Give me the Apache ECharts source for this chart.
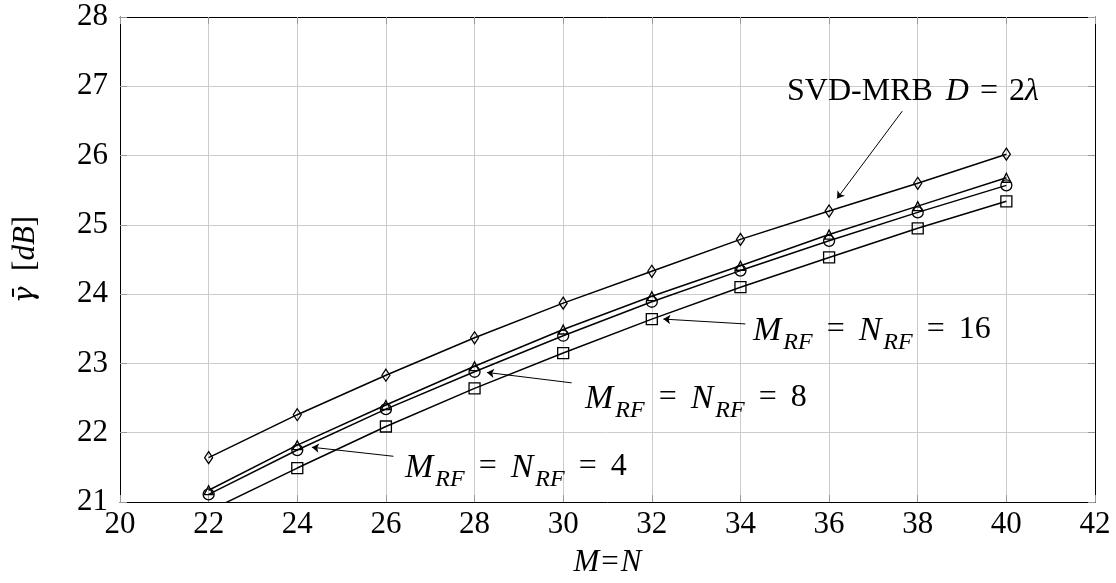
<!DOCTYPE html>
<html>
<head>
<meta charset="utf-8">
<script src="https://cdn.jsdelivr.net/npm/echarts@6/dist/echarts.min.js"></script>
<style>
  html, body { margin: 0; padding: 0; background: #fff; }
  #chart { width: 1116px; height: 583px; }
</style>
</head>
<body>
<div id="chart"></div>
<script>
// Array size M = N
const sizes = [22, 24, 26, 28, 30, 32, 34, 36, 38, 40];

// Average SNR gain (dB) per scheme
const svdMrb   = [21.64, 22.26, 22.83, 23.37, 23.87, 24.33, 24.79, 25.20, 25.60, 26.02];
const rf16     = [21.17, 21.82, 22.40, 22.96, 23.49, 23.97, 24.41, 24.86, 25.27, 25.68];
const rf8      = [21.11, 21.75, 22.34, 22.88, 23.40, 23.89, 24.34, 24.77, 25.18, 25.57];
const rf4      = [20.87, 21.49, 22.09, 22.64, 23.15, 23.64, 24.10, 24.53, 24.95, 25.34];

// Axis ranges and ticks
const xTicks = [20, 42, 2];
const yTicks = [21, 28, 1];

const FONT = 'Liberation Serif';
const FS = 31;
const AFS = 32;

function tok(extra) {
  return Object.assign({
    fontFamily: FONT, fontSize: AFS, fontWeight: 'normal', fontStyle: 'normal',
    color: '#000', lineHeight: 36, verticalAlign: 'top'
  }, extra);
}

// math-like text pieces: italic symbols, upright text, relation with wide spacing, subscripts
const rich = {
  it:  tok({ fontStyle: 'italic' }),
  itm: tok({ fontStyle: 'italic', fontSize: 34 }),
  itd: tok({ fontStyle: 'italic', padding: [0, 0, 0, 13] }),
  rm:  tok({}),
  eq:  tok({ padding: [0, 11, 0, 11] }),
  eqw: tok({ padding: [0, 14, 0, 14] }),
  sub: tok({ fontSize: 24, fontStyle: 'italic', lineHeight: 24, padding: [17, 0, 0, 2] }),
  ax:  tok({ fontSize: FS, fontStyle: 'italic', lineHeight: 34 }),
  axr: tok({ fontSize: FS, lineHeight: 34 }),
  axe: tok({ fontSize: FS, lineHeight: 34, padding: [0, 2, 0, 2] }),
  gam: tok({ fontFamily: 'DejaVu Serif', fontSize: 28, fontStyle: 'italic', lineHeight: 34, padding: [2, 0, 0, 0] })
};

const pair = (xs, ys) => xs.map((x, i) => [x, ys[i]]);

function lineSeries(name, ys, symbol, size) {
  return {
    name: name,
    type: 'line',
    data: pair(sizes, ys),
    symbol: symbol,
    symbolSize: size,
    showAllSymbol: true,
    clip: true,
    lineStyle: { color: '#000', width: 1.5 },
    itemStyle: { color: 'rgba(255,255,255,0)', borderColor: '#000', borderWidth: 1.3 },
    emphasis: { disabled: true },
    z: 3
  };
}

function annotationTitle(text, left, top) {
  return { text: text, left: left, top: top, padding: 0, textStyle: { fontWeight: 'normal', rich: rich } };
}

const rfLabel = (n) => '{itm|M}{sub|RF}{eqw|=}{itm|N}{sub|RF}{eqw|=}{rm|' + n + '}';

const arrowLine = { color: '#000', width: 1, type: 'solid' };

const option = {
  animation: false,
  backgroundColor: '#fff',
  title: [
    annotationTitle('{rm|SVD-MRB}{itd|D}{eq|=}{rm|2}{it|λ}', 787, 76),
    annotationTitle(rfLabel(16), 753, 314),
    annotationTitle(rfLabel(8), 585, 382),
    annotationTitle(rfLabel(4), 405, 451)
  ],
  grid: { left: 120, right: 21, top: 17, bottom: 78, containLabel: false },
  xAxis: [
    {
      type: 'value', min: xTicks[0], max: xTicks[1], interval: xTicks[2], position: 'bottom',
      name: '{ax|M}{axe|=}{ax|N}', nameLocation: 'middle', nameGap: 45,
      nameTextStyle: { rich: rich },
      axisLine: { onZero: false, lineStyle: { color: '#000', width: 1 } },
      axisTick: { inside: true, length: 7, lineStyle: { color: '#999' } },
      axisLabel: { fontFamily: FONT, fontSize: FS, color: '#000', margin: 7 },
      splitLine: { show: true, lineStyle: { color: '#cccccc', width: 1 } }
    },
    {
      type: 'value', min: xTicks[0], max: xTicks[1], interval: xTicks[2], position: 'top',
      axisLine: { onZero: false, lineStyle: { color: '#000', width: 1 } },
      axisTick: { inside: true, length: 7, lineStyle: { color: '#999' } },
      axisLabel: { show: false },
      splitLine: { show: false }
    }
  ],
  yAxis: [
    {
      type: 'value', min: yTicks[0], max: yTicks[1], interval: yTicks[2], position: 'left',
      name: '{gam|γ̄}{axr|  [}{ax|dB}{axr|]}', nameLocation: 'middle', nameGap: 76, nameRotate: 90,
      nameTextStyle: { rich: rich },
      axisLine: { onZero: false, lineStyle: { color: '#000', width: 1 } },
      axisTick: { inside: true, length: 7, lineStyle: { color: '#999' } },
      axisLabel: { fontFamily: FONT, fontSize: FS, color: '#000', margin: 12 },
      splitLine: { show: true, lineStyle: { color: '#cccccc', width: 1 } }
    },
    {
      type: 'value', min: yTicks[0], max: yTicks[1], interval: yTicks[2], position: 'right',
      axisLine: { onZero: false, lineStyle: { color: '#000', width: 1 } },
      axisTick: { inside: true, length: 7, lineStyle: { color: '#999' } },
      axisLabel: { show: false },
      splitLine: { show: false }
    }
  ],
  series: [
    lineSeries('SVD-MRB', svdMrb, 'diamond', [8, 12]),
    lineSeries('RF16', rf16, 'triangle', [9, 9]),
    lineSeries('RF8', rf8, 'circle', 11),
    Object.assign(lineSeries('RF4', rf4, 'rect', 11), {
      // leader arrows from each label to its curve
      markLine: {
        silent: true,
        symbol: ['none', 'arrow'],
        symbolSize: 7,
        label: { show: false },
        lineStyle: arrowLine,
        emphasis: { disabled: true },
        data: [
          [{ coord: [37.65, 26.64] }, { coord: [36.18, 25.38] }],
          [{ coord: [34.11, 23.57] }, { coord: [32.26, 23.64] }],
          [{ coord: [30.19, 22.72] }, { coord: [28.28, 22.87] }],
          [{ coord: [26.17, 21.66] }, { coord: [24.33, 21.79] }]
        ]
      }
    })
  ]
};

const chart = echarts.init(document.getElementById('chart'), null, { renderer: 'canvas' });
chart.setOption(option);
</script>
</body>
</html>
